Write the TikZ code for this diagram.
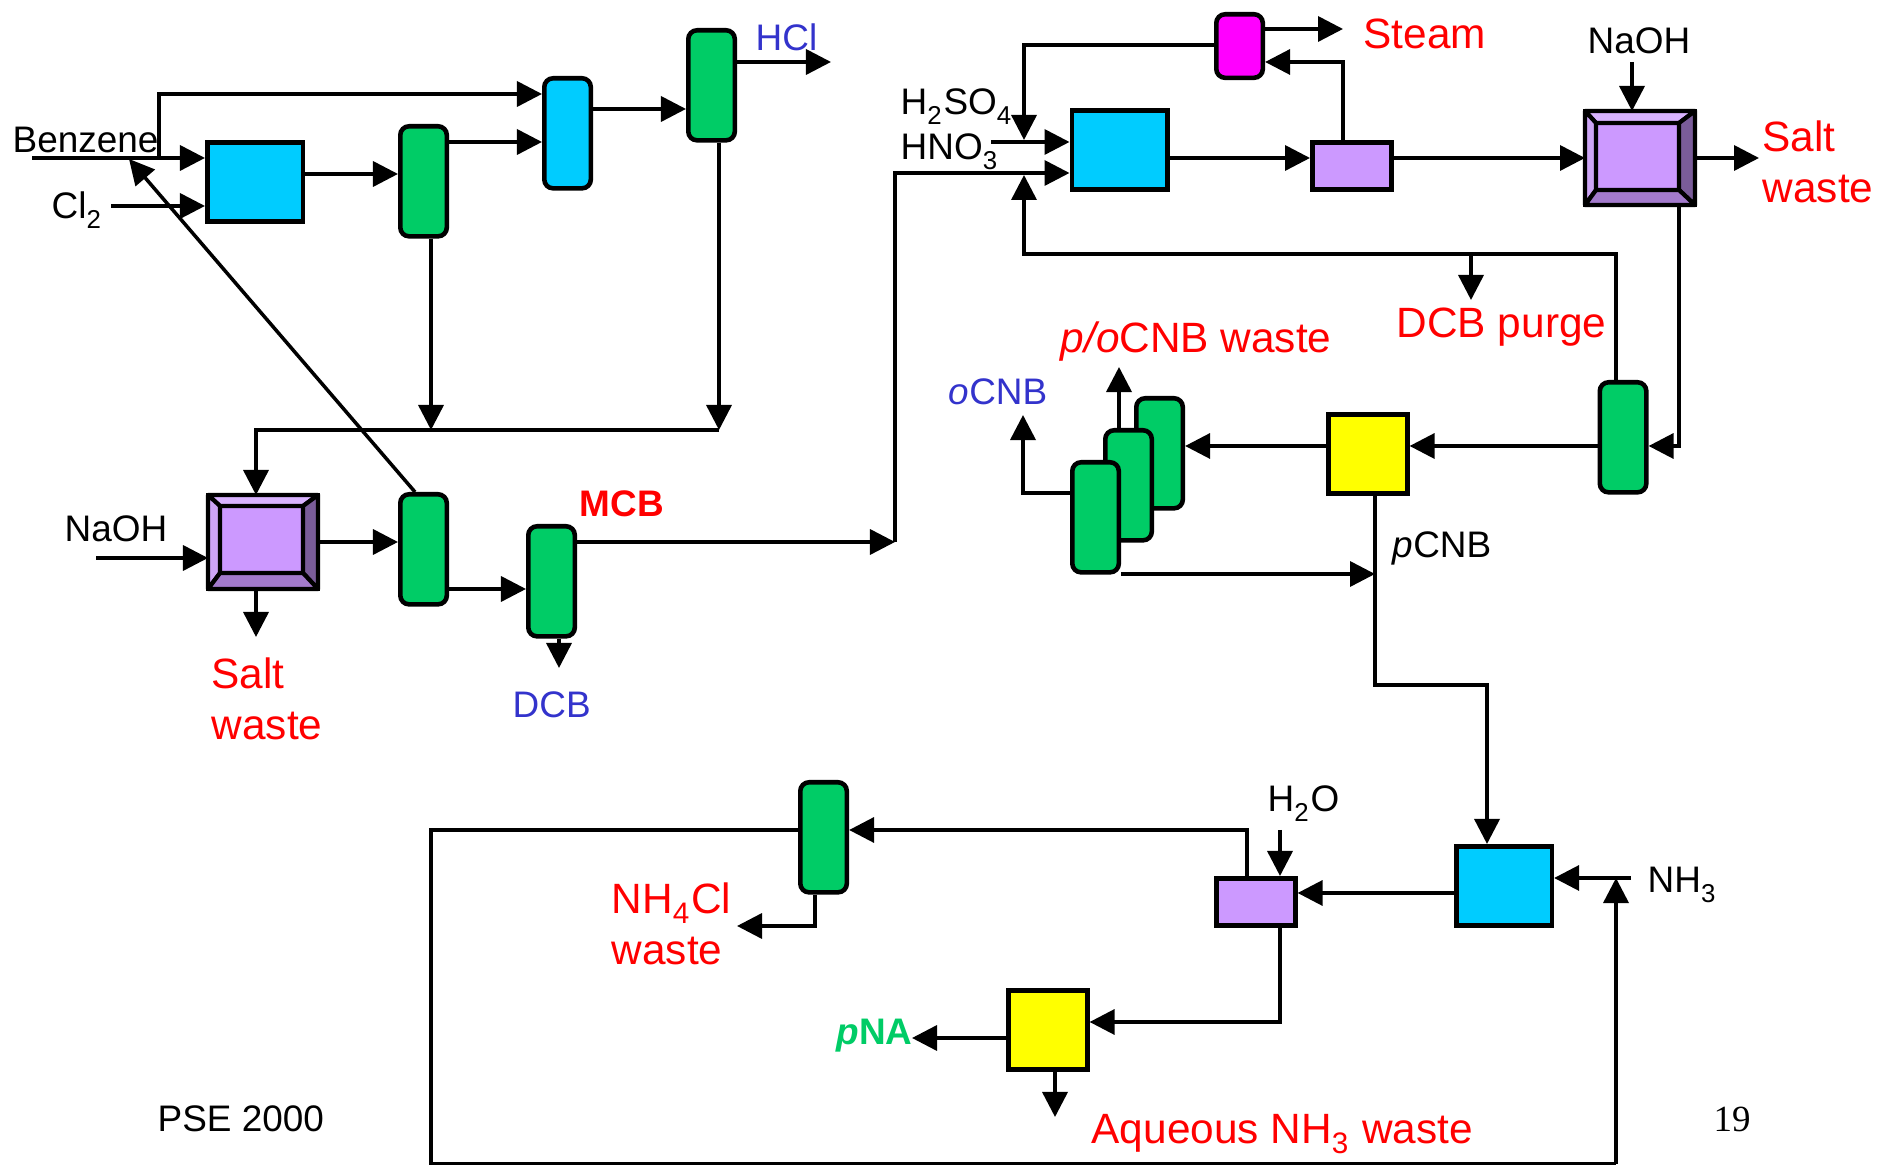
\documentclass[tikz,border=0pt]{standalone}
\usepackage{fontspec}
\setmainfont{Liberation Sans}
\newfontfamily\pagefont{Liberation Serif}
\usepackage{xcolor}
\usepackage{tikz}
\usetikzlibrary{arrows.meta,calc}
\definecolor{unitblue}{RGB}{0,204,255}
\definecolor{unitgreen}{RGB}{0,204,102}
\definecolor{unitpurple}{RGB}{204,153,255}
\definecolor{unitmagenta}{RGB}{255,0,255}
\definecolor{unityellow}{RGB}{255,255,0}
\definecolor{bevellight}{RGB}{217,179,255}
\definecolor{bevelleft}{RGB}{205,165,245}
\definecolor{bevelbottom}{RGB}{163,122,204}
\definecolor{beveldark}{RGB}{122,92,153}
\definecolor{labelblue}{RGB}{51,51,204}
\definecolor{labelred}{RGB}{255,0,0}
\newcommand{\lowsub}[1]{\raisebox{-1.2pt}{\textsubscript{#1}}}

\begin{document}
\begin{tikzpicture}[
  x=0.01cm, y=-0.01cm,
  unit/.style={draw, line width=1.3pt, anchor=north west, inner sep=0pt},
  reactor/.style={unit, fill=unitblue, minimum width=0.955cm, minimum height=0.79cm},
  column/.style={unit, rounded corners=2.5pt, fill=unitgreen, minimum width=0.465cm, minimum height=1.10cm},
  drum/.style={unit, fill=unitpurple, minimum width=0.79cm, minimum height=0.47cm},
  still/.style={unit, fill=unityellow, minimum width=0.79cm, minimum height=0.79cm},
  wash/.style={unit, line width=1.2pt, outer sep=0pt, minimum width=1.10cm, minimum height=0.94cm},
  washin/.style={unit, line width=1.2pt, outer sep=0pt, fill=unitpurple, minimum width=0.83cm, minimum height=0.67cm},
  bevel/.style={line width=1.2pt, line join=round},
  lab/.style={anchor=base west, inner sep=0pt, font=\fontsize{10.5pt}{12pt}\selectfont},
  waste/.style={lab, labelred, align=left, font=\fontsize{12.05pt}{14.7pt}\selectfont},
  arr/.style={-{Triangle[length=2.5mm,width=2.5mm]}, line width=1pt},
  lne/.style={line width=1pt},
]
\useasboundingbox (0,0) rectangle (1879,1165);

\node[reactor] (rone) at (205,140) {};
\node[column] (sepa) at (398,124) {};
\node[column, fill=unitblue] (cola) at (542,76) {};
\node[column] (sepb) at (686,28) {};
\node[column] (sepc) at (398,492) {};
\node[column] (sepd) at (526,524) {};
\node[wash] (wone) at (208,495) {};
\node[wash] (wtwo) at (1585,111) {};
\node[washin] (wonein) at (220,506) {};
\node[washin] (wtwoin) at (1596,123) {};
\draw[bevel, fill=bevellight] (wone.north west) -- (wone.north east) -- (wonein.north east) -- (wonein.north west) -- cycle;
\draw[bevel, fill=bevelleft] (wone.north west) -- (wonein.north west) -- (wonein.south west) -- (wone.south west) -- cycle;
\draw[bevel, fill=beveldark] (wone.north east) -- (wonein.north east) -- (wonein.south east) -- (wone.south east) -- cycle;
\draw[bevel, fill=bevelbottom] (wone.south west) -- (wonein.south west) -- (wonein.south east) -- (wone.south east) -- cycle;
\draw[bevel, fill=bevellight] (wtwo.north west) -- (wtwo.north east) -- (wtwoin.north east) -- (wtwoin.north west) -- cycle;
\draw[bevel, fill=bevelleft] (wtwo.north west) -- (wtwoin.north west) -- (wtwoin.south west) -- (wtwo.south west) -- cycle;
\draw[bevel, fill=beveldark] (wtwo.north east) -- (wtwoin.north east) -- (wtwoin.south east) -- (wtwo.south east) -- cycle;
\draw[bevel, fill=bevelbottom] (wtwo.south west) -- (wtwoin.south west) -- (wtwoin.south east) -- (wtwo.south east) -- cycle;

\node[reactor] (rtwo) at (1069.5,108) {};
\node[unit, rounded corners=2.5pt, fill=unitmagenta, minimum width=0.465cm, minimum height=0.635cm] (flash) at (1214,12) {};
\node[drum] (drone) at (1310,140) {};
\node[column] (sepe) at (1597.5,380) {};
\node[still] (stone) at (1326,412) {};
\node[column] (cryc) at (1134,396) {};
\node[column] (cryb) at (1103,428) {};
\node[column] (crya) at (1070,460) {};
\node[reactor] (rthree) at (1454,844) {};
\node[drum] (drtwo) at (1214,876) {};
\node[column] (sepf) at (798,780) {};
\node[still] (sttwo) at (1006,988) {};

\node[lab] (benz) at (12,153) {Benzene};
\node[lab] (cl) at (51,219) {Cl\lowsub{2}};
\node[lab, labelblue] (hcl) at (755,51) {HCl};
\node[lab] (naa) at (64,542) {NaOH};
\node[waste] (salta) at (211,740) {Salt\\waste};
\node[lab, labelblue] (dcb) at (512,718) {DCB};
\node[lab, labelred, font=\fontsize{10.5pt}{12pt}\selectfont\bfseries] (mcb) at (579,517) {MCB};
\node[lab] (hso) at (900,115) {H\lowsub{2}SO\lowsub{4}};
\node[lab] (hno) at (900,160) {HNO\lowsub{3}};
\node[waste] (steam) at (1363,49) {Steam};
\node[lab] (nab) at (1587,54) {NaOH};
\node[waste] (saltb) at (1762,203) {Salt\\waste};
\node[waste] (purge) at (1396,338) {DCB purge};
\node[waste] (pocnb) at (1060,353) {\textit{p/o}CNB waste};
\node[lab, labelblue] (ocnb) at (948,405) {\textit{o}CNB};
\node[lab] (pcnb) at (1392,558) {\textit{p}CNB};
\node[lab] (hwater) at (1267,812) {H\lowsub{2}O};
\node[lab] (nh) at (1647,893) {NH\lowsub{3}};
\node[waste] (nhcl) at (611,965) {NH\lowsub{4}Cl\\waste};
\node[lab, unitgreen, font=\fontsize{10.5pt}{12pt}\selectfont\bfseries] (pna) at (836,1045) {\textit{p}NA};
\node[waste] (aq) at (1091,1143) {Aqueous NH\lowsub{3} waste};
\node[lab] (pse) at (157,1132) {PSE 2000};
\node[lab, font=\fontsize{10.5pt}{12pt}\pagefont] (pageno) at (1713,1132) {19};

\coordinate (benzin) at (32,158);
\coordinate (benzjn) at (159,158);
\coordinate (clin) at (111,206);
\coordinate (hclout) at (831,62);
\coordinate (mergea) at (431,430);
\coordinate (mergeb) at (719,430);
\coordinate (mergec) at (256,430);
\coordinate (recyca) at (129,159);
\coordinate (nain) at (96,558);
\coordinate (saltout) at (256,637);
\coordinate (dcbout) at (559,668);
\coordinate (mcbjn) at (895,542);
\coordinate (mcbup) at (895,173);
\coordinate (hsoin) at (991,142);
\coordinate (flashl) at (1024,45);
\coordinate (flashd) at (1024,140);
\coordinate (steamout) at (1343,29);
\coordinate (drup) at (1343,62);
\coordinate (nabin) at (1632,62);
\coordinate (saltbout) at (1759,158);
\coordinate (wtwod) at (1679,446);
\coordinate (recycb) at (1616,254);
\coordinate (recycc) at (1024,254);
\coordinate (recycd) at (1024,175);
\coordinate (purgejn) at (1471,254);
\coordinate (purgeout) at (1471,300);
\coordinate (pocout) at (1119,367);
\coordinate (ocnbl) at (1023,493);
\coordinate (ocnbout) at (1023,415);
\coordinate (pcnbjn) at (1375,574);
\coordinate (pcnbd) at (1375,685);
\coordinate (pcnbr) at (1487,685);
\coordinate (nhin) at (1631,878);
\coordinate (nhjn) at (1616,878);
\coordinate (botr) at (1616,1164);
\coordinate (botl) at (431,1164);
\coordinate (topl) at (431,830);
\coordinate (drtop) at (1247,830);
\coordinate (hwaterin) at (1280,830);
\coordinate (drbot) at (1280,1022);
\coordinate (sepfd) at (815,926);
\coordinate (sepfout) at (737,926);
\coordinate (pnaout) at (912,1038);
\coordinate (aqout) at (1055,1117);

\draw[arr] (benzin) -- (rone.west|-benzin);
\draw[arr] (clin) -- (rone.west|-clin);
\draw[arr] (benzjn) |- (cola.west|-0,94);
\draw[arr] (rone.east|-0,174) -- (sepa.west|-0,174);
\draw[arr] (sepa.east|-0,142) -- (cola.west|-0,142);
\draw[arr] (cola.east|-0,109) -- (sepb.west|-0,109);
\draw[arr] (sepb.east|-hclout) -- (hclout);
\draw[arr] (sepa.south-|mergea) -- (mergea);
\draw[arr] (sepb.south-|mergeb) -- (mergeb);
\draw[arr] (mergeb) -- (mergec) -- (wone.north-|mergec);
\draw[arr] (sepc.north-|415,0) -- (recyca);
\draw[arr] (nain) -- (wone.west|-nain);
\draw[arr] (wone.east|-0,542) -- (sepc.west|-0,542);
\draw[arr] (wone.south-|saltout) -- (saltout);
\draw[arr] (sepc.east|-0,589) -- (sepd.west|-0,589);
\draw[arr] (sepd.south-|dcbout) -- (dcbout);
\draw[arr] (sepd.east|-mcbjn) -- (mcbjn);
\draw[arr] (mcbjn) -- (mcbup) -- (rtwo.west|-mcbup);
\draw[arr] (hsoin) -- (rtwo.west|-hsoin);
\draw[arr] (flash.west|-flashl) -- (flashl) -- (flashd);
\draw[arr] (flash.east|-steamout) -- (steamout);
\draw[arr] (rtwo.east|-0,158) -- (drone.west|-0,158);
\draw[arr] (drone.north-|drup) -- (drup) -- (flash.east|-drup);
\draw[arr] (drone.east|-0,158) -- (wtwo.west|-0,158);
\draw[arr] (nabin) -- (wtwo.north-|nabin);
\draw[arr] (wtwo.east|-saltbout) -- (saltbout);
\draw[arr] (wtwo.south-|wtwod) -- (wtwod) -- (sepe.east|-wtwod);
\draw[arr] (sepe.north-|recycb) -- (recycb) -- (recycc) -- (recycd);
\draw[arr] (purgejn) -- (purgeout);
\draw[arr] (sepe.west|-wtwod) -- (stone.east|-wtwod);
\draw[arr] (stone.west|-wtwod) -- (cryc.east|-wtwod);
\draw[arr] (cryb.north-|pocout) -- (pocout);
\draw[arr] (crya.west|-ocnbl) -- (ocnbl) -- (ocnbout);
\draw[arr] (crya.east|-pcnbjn) -- (pcnbjn);
\draw[arr] (stone.south-|pcnbjn) -- (pcnbd) -- (pcnbr) -- (rthree.north-|pcnbr);
\draw[arr] (nhin) -- (rthree.east|-nhin);
\draw[arr] (botr) -- (nhjn);
\draw[lne] (botr) -- (botl) -- (topl) -- (sepf.west|-topl);
\draw[arr] (rthree.west|-0,893) -- (drtwo.east|-0,893);
\draw[arr] (drtwo.north-|drtop) -- (drtop) -- (sepf.east|-drtop);
\draw[arr] (hwaterin) -- (drtwo.north-|hwaterin);
\draw[arr] (drtwo.south-|drbot) -- (drbot) -- (sttwo.east|-drbot);
\draw[arr] (sepf.south-|sepfd) -- (sepfd) -- (sepfout);
\draw[arr] (sttwo.west|-pnaout) -- (pnaout);
\draw[arr] (sttwo.south-|aqout) -- (aqout);
\end{tikzpicture}
\end{document}
